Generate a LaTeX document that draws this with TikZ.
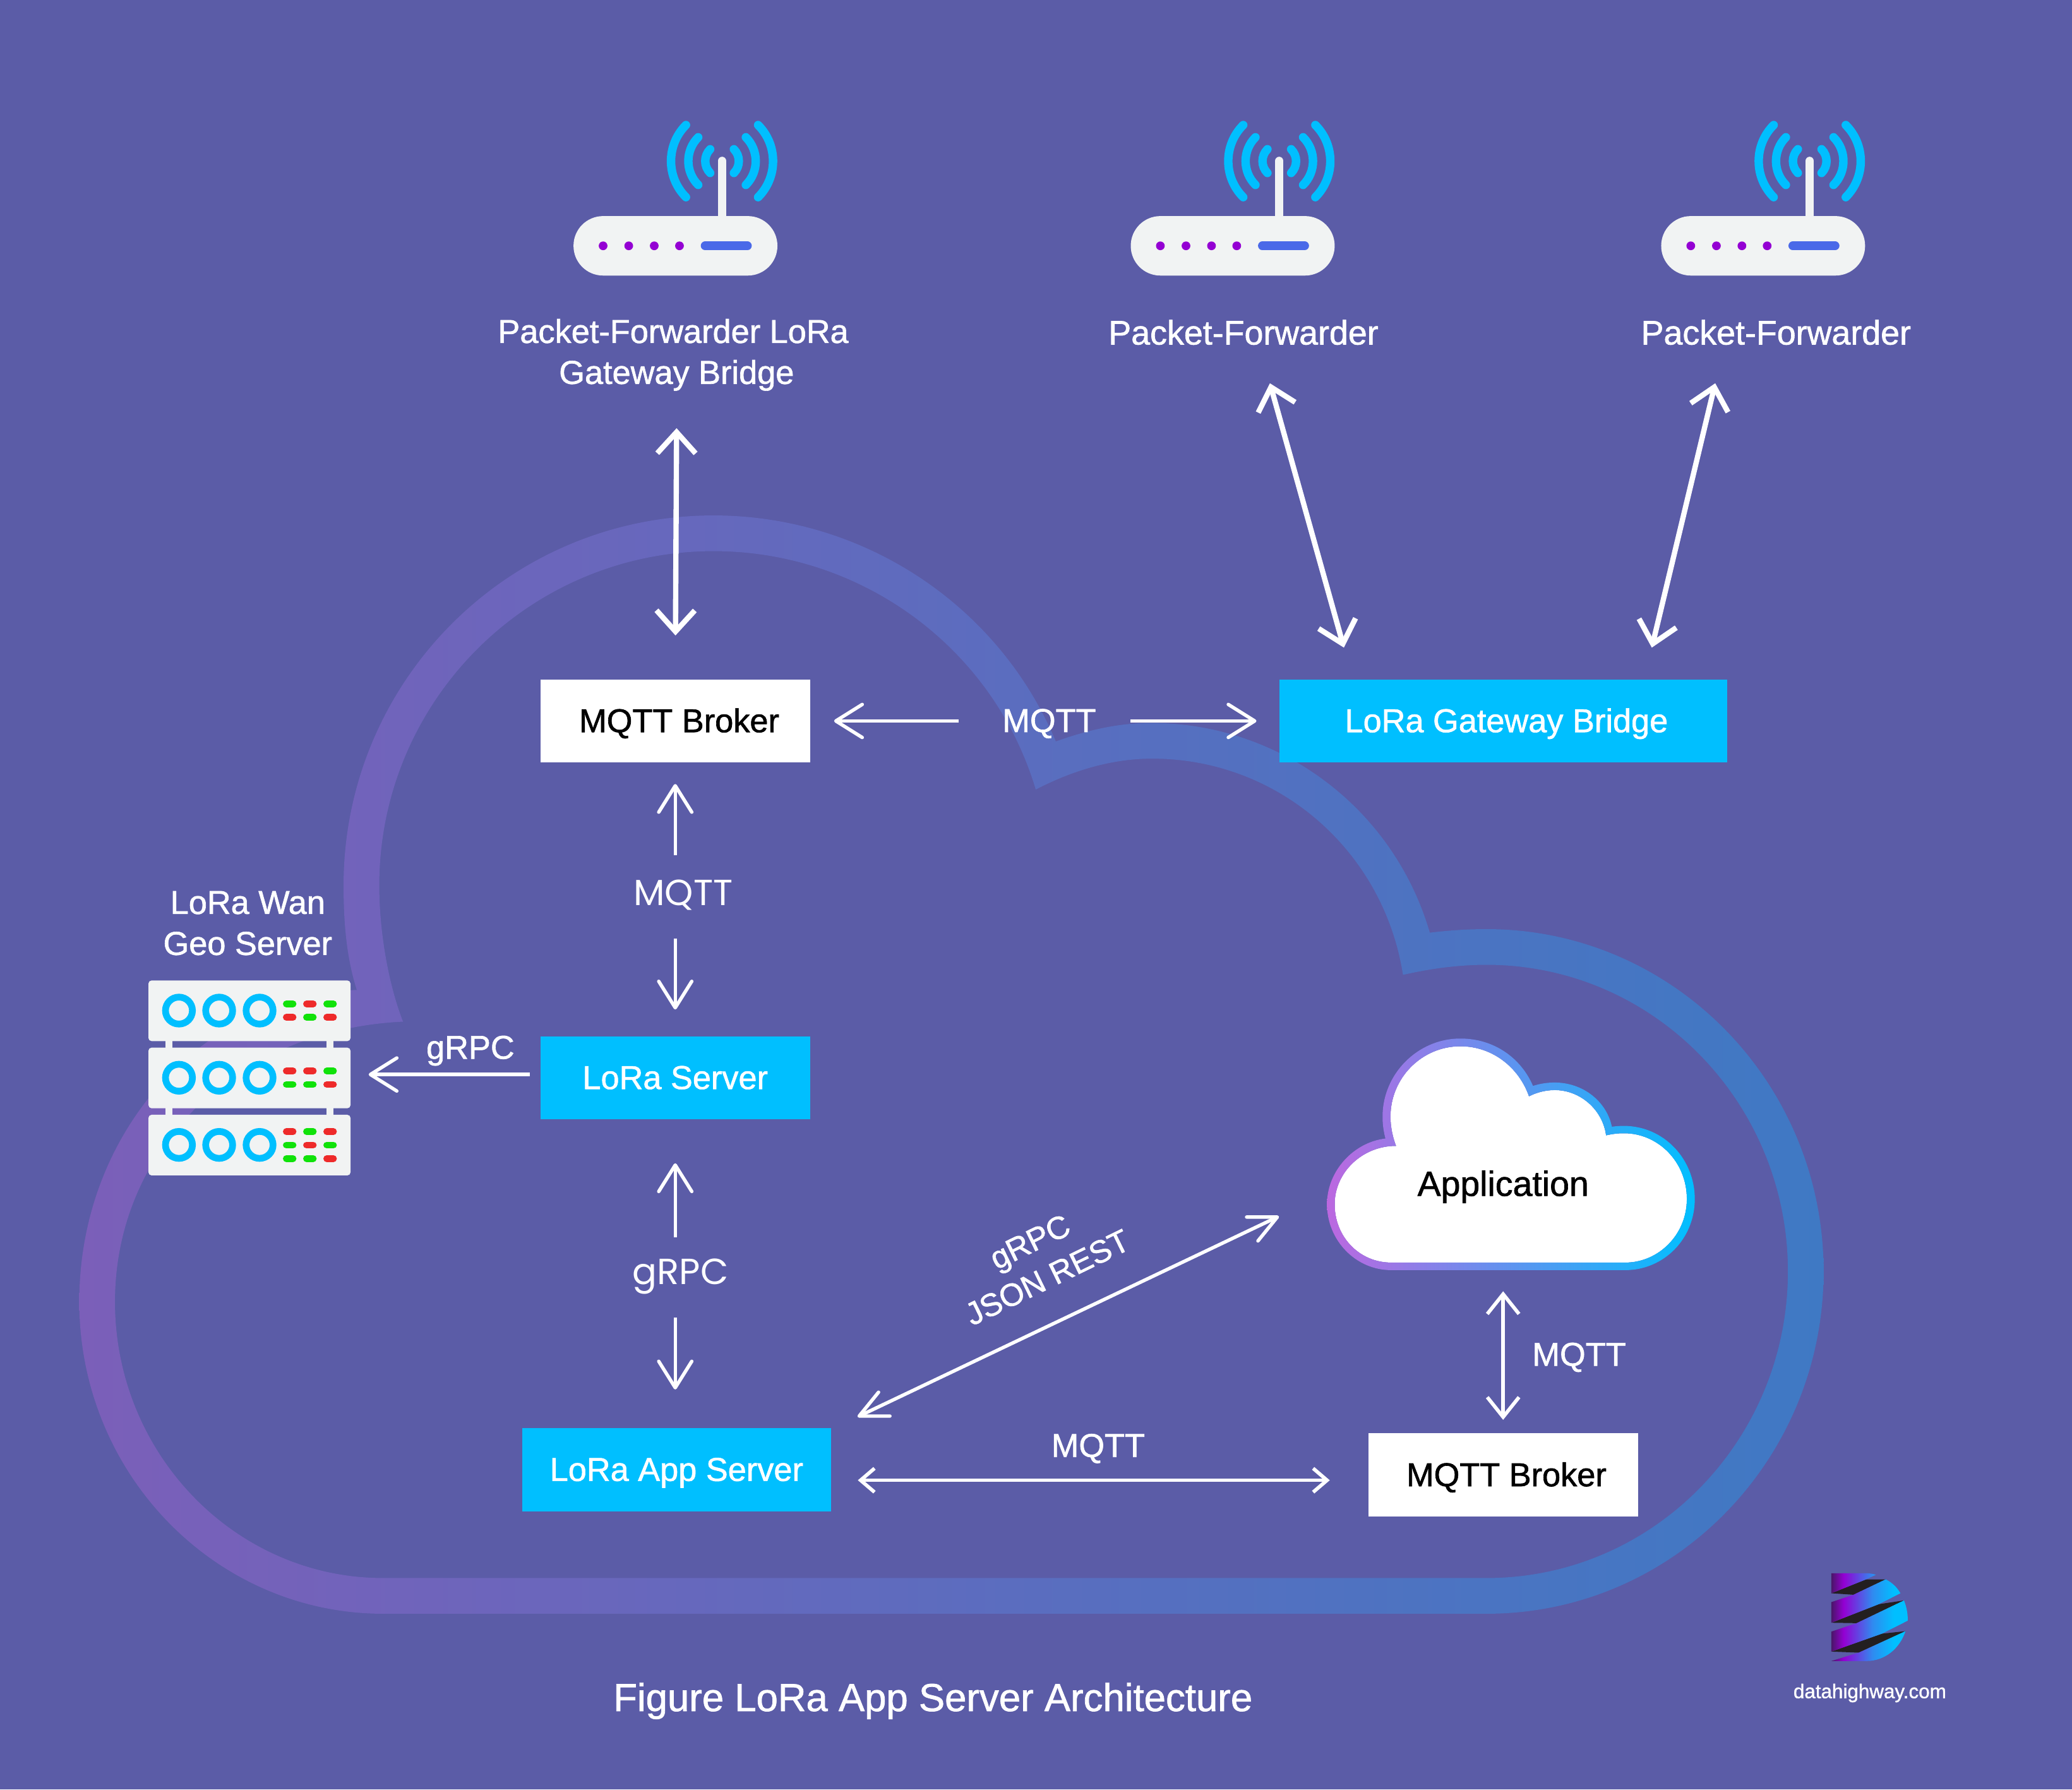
\documentclass[tikz,border=0pt]{standalone}
\usepackage{fontspec}
\setmainfont{Liberation Sans}[FakeBold=1.2]
\newfontfamily\labelfont{Poppins}
\usetikzlibrary{arrows.meta}

\definecolor{backcol}{HTML}{5B5CA7}
\definecolor{cyancol}{HTML}{00BFFF}
\definecolor{paper}{HTML}{F1F3F3}
\definecolor{dotcol}{HTML}{9400D3}
\definecolor{barcol}{HTML}{4A69E8}
\definecolor{okcol}{HTML}{10E20A}
\definecolor{badcol}{HTML}{EE2A2A}
\definecolor{logodark}{HTML}{4A1568}
\definecolor{logoblue}{HTML}{2F8BF0}
\definecolor{logoband}{HTML}{231F20}
\definecolor{bandleft}{HTML}{7B5FB9}
\definecolor{bandright}{HTML}{3F79C4}
\definecolor{ringleft}{HTML}{BC68E0}
\definecolor{ringmid}{HTML}{7E8BEE}

\pgfdeclarehorizontalshading{logoshade}{100bp}{color(0bp)=(logodark); color(25bp)=(logodark); color(33bp)=(dotcol); color(52bp)=(logoblue); color(66bp)=(cyancol); color(100bp)=(cyancol)}

\tikzset{
	roundtip/.tip={Straight Barb[length=20pt,width=25pt,round]},
	difftip/.tip={Straight Barb[length=21pt,width=20pt,round]},
	bigtip/.tip={Straight Barb[length=16pt,width=29pt]},
	midtip/.tip={Straight Barb[length=15pt,width=24pt]},
	smalltip/.tip={Straight Barb[length=10.5pt,width=18pt]},
	boxnode/.style={minimum height=63pt, inner sep=0pt, text height=17pt, text depth=0pt, font=\fontsize{25}{31}\selectfont},
	whitebox/.style={boxnode, fill=white, text=black, minimum width=204pt},
	bluebox/.style={boxnode, fill=cyancol, text=white},
	caption/.style={text=white, inner sep=0pt, align=center, font=\fontsize{25}{31}\selectfont},
	thinlabel/.style={text=white, inner sep=0pt, font=\labelfont\fontsize{27.5}{31}\selectfont},
	onearrow/.style={draw=white, line width=2.6pt, -{roundtip}},
	heavyarrow/.style={draw=white, line width=4pt, {bigtip}-{bigtip}},
	diagarrow/.style={draw=white, line width=2.6pt, {difftip}-{difftip}},
	midarrow/.style={draw=white, line width=2.7pt, {midtip}-{midtip}},
	lowarrow/.style={draw=white, line width=2.7pt, {smalltip}-{smalltip}},
	wave/.style={draw=cyancol, line width=6.4pt, line cap=round},
	pill/.style={line width=5.1pt, line cap=round},
	pics/router/.style={code={
		\fill[paper, rounded corners=22.4pt] (0,-22.5) rectangle (154.3,22.5);
		\draw[paper, line width=6.4pt, line cap=round] (112.4,-64.2) -- (112.4,-20);
		\foreach \r in {12.7,25.5,38.6} {
			\draw[wave] (112.4,-64.1) ++(135:\r) arc (135:225:\r);
			\draw[wave] (112.4,-64.1) ++(-45:\r) arc (-45:45:\r);
		}
		\foreach \x in {22.4,41.8,61.1,80.2}
			\fill[dotcol] (\x,0) circle (3.3);
		\draw[barcol, line width=6.6pt, line cap=round] (99.6,0) -- (131.6,0);
	}}
}

\begin{document}
\begin{tikzpicture}[x=1pt,y=-1pt]

	\useasboundingbox (0,0) rectangle (1568,1353.9);
	\fill[backcol] (0,0) rectangle (1568,1353.9);

	% big cloud
	\shade[left color=bandleft, right color=bandright, even odd rule]
		(290,1221) .. controls (163,1221) and (60,1115) .. (60,985)
		.. controls (60,855) and (155,753) .. (270,749)
		.. controls (262,724) and (260,697) .. (260,670)
		.. controls (260,515.4) and (385,390) .. (540,390)
		.. controls (652.7,390) and (755.3,457.1) .. (799,561)
		.. controls (822.5,552.6) and (846,547) .. (871,547)
		.. controls (968.8,547) and (1054.7,611.8) .. (1082,705.7)
		.. controls (1096,704) and (1110,703) .. (1125,703)
		.. controls (1265.8,703) and (1380,819) .. (1380,962)
		.. controls (1380,1105) and (1265.8,1221) .. (1125,1221) -- cycle
		(290,1194) .. controls (178,1194) and (87,1100) .. (87,985)
		.. controls (87,870) and (178,779) .. (305,773)
		.. controls (294,745) and (287,705) .. (287,670)
		.. controls (287,530.3) and (400.3,417) .. (540,417)
		.. controls (651.9,417) and (751.8,490) .. (783.8,597.4)
		.. controls (811.2,583.2) and (841.1,574) .. (872,574)
		.. controls (967.2,574) and (1047.1,643.6) .. (1061.7,737.6)
		.. controls (1082,733) and (1103,730) .. (1125,730)
		.. controls (1251,730) and (1353,834) .. (1353,962)
		.. controls (1353,1090) and (1251,1194) .. (1125,1194) -- cycle;

	% gateways
	\pic at (434,186) {router};
	\pic at (855.7,186) {router};
	\pic at (1257.1,186) {router};

	\node[caption] (pfa) at (509.5,268.5) {Packet-Forwarder LoRa\\\hspace*{5pt}Gateway Bridge};
	\node[caption, font=\fontsize{25.7}{31}\selectfont] (pfb) at (941,251.5) {Packet-Forwarder};
	\node[caption, font=\fontsize{25.7}{31}\selectfont] (pfc) at (1344,251.5) {Packet-Forwarder};

	% boxes
	\node[whitebox] (mqtta) at (511,545.5) {\hspace*{6pt}MQTT Broker};
	\node[bluebox, minimum width=339pt] (gateway) at (1137.5,545.5) {\hspace*{5pt}LoRa Gateway Bridge};
	\node[bluebox, minimum width=204pt] (loraserver) at (511,815.5) {LoRa Server};
	\node[bluebox, minimum width=234pt] (appserver) at (512,1112) {LoRa App Server};
	\node[whitebox] (mqttb) at (1137.5,1116) {\hspace*{5pt}MQTT Broker};

	% application cloud
	\begin{scope}[shift={(984.5,764.6)},xscale=.2011,yscale=.1593]
		\fill[white]
			(340,1197) .. controls (220,1197) and (127,1075) .. (127,920)
			.. controls (127,770) and (230,643) .. (358,643)
			.. controls (345,600) and (337,550) .. (337,505)
			.. controls (337,320) and (455,170) .. (600,170)
			.. controls (720,170) and (820,270) .. (858,408)
			.. controls (885,390) and (920,378) .. (955,378)
			.. controls (1050,378) and (1135,470) .. (1148,593)
			.. controls (1170,587) and (1190,583) .. (1215,583)
			.. controls (1345,583) and (1452,720) .. (1452,895)
			.. controls (1452,1065) and (1345,1197) .. (1220,1197) -- cycle;
		\shade[left color=ringleft, middle color=ringmid, right color=cyancol, even odd rule]
			(340,1233) .. controls (205,1233) and (98,1090) .. (98,920)
			.. controls (98,760) and (200,625) .. (318,608)
			.. controls (311,575) and (307,540) .. (307,505)
			.. controls (307,300) and (440,133) .. (600,133)
			.. controls (730,133) and (830,230) .. (873,358)
			.. controls (900,347) and (927,342) .. (955,342)
			.. controls (1060,342) and (1150,430) .. (1170,552)
			.. controls (1185,549) and (1200,548) .. (1215,548)
			.. controls (1365,548) and (1482,705) .. (1482,895)
			.. controls (1482,1085) and (1365,1233) .. (1220,1233) -- cycle
			(340,1197) .. controls (220,1197) and (127,1075) .. (127,920)
			.. controls (127,770) and (230,643) .. (358,643)
			.. controls (345,600) and (337,550) .. (337,505)
			.. controls (337,320) and (455,170) .. (600,170)
			.. controls (720,170) and (820,270) .. (858,408)
			.. controls (885,390) and (920,378) .. (955,378)
			.. controls (1050,378) and (1135,470) .. (1148,593)
			.. controls (1170,587) and (1190,583) .. (1215,583)
			.. controls (1345,583) and (1452,720) .. (1452,895)
			.. controls (1452,1065) and (1345,1197) .. (1220,1197) -- cycle;
	\end{scope}
	\node[caption, text=black, font=\fontsize{26.5}{31}\selectfont] (application) at (1137.5,898) {Application};

	% server rack
	\begin{scope}[shift={(95.6,726.4)},scale=.1593]
		\foreach \x in {185,951}
			\fill[paper] (\x,385) rectangle +(33,350);
		\foreach \y in {97,416,735} {
			\fill[paper, rounded corners=2.4pt] (105,\y) rectangle +(960,288);
			\foreach \x in {250,441,633}
				\draw[cyancol, line width=5.1pt] (\x,\y+143) circle (64);
		}
		\foreach \x/\y/\c in {744/208/okcol,840/208/badcol,936/208/okcol,744/272/badcol,840/272/okcol,936/272/badcol,
			744/527/badcol,840/527/badcol,936/527/okcol,744/591/okcol,840/591/okcol,936/591/badcol,
			744/815/badcol,840/815/okcol,936/815/badcol,744/879/okcol,840/879/badcol,936/879/okcol,744/943/okcol,840/943/okcol,936/943/badcol}
			\draw[\c, pill] (\x+16,\y) -- (\x+48,\y);
	\end{scope}
	\node[caption] (geolabel) at (187.5,698.5) {LoRa Wan\\Geo Server};
	\coordinate (geoport) at (265,813);

	% free ends
	\coordinate (pfaport) at (512,324);
	\coordinate (pfbport) at (961,290);
	\coordinate (pfcport) at (1298,290);
	\coordinate (gwa) at (1017,490);
	\coordinate (gwb) at (1250,490);
	\coordinate (appa) at (649,1072);
	\coordinate (appb) at (967.8,920.3);

	% labels
	\node[caption] (lbla) at (794,547.5) {MQTT};
	\node[thinlabel] (lblb) at (517,677) {MQTT};
	\node[thinlabel] (lblc) at (515,966) {gRPC};
	\node[caption] (lbld) at (356,795) {gRPC};
	\node[caption, rotate=26, font=\fontsize{24}{30}\selectfont] (lble) at (786,953) {gRPC\\JSON REST};
	\node[caption] (lblf) at (831,1096) {MQTT};
	\node[caption] (lblg) at (1195,1027) {MQTT};

	% arrows
	\draw[heavyarrow, shorten >=33pt] (pfaport) -- (mqtta.north);
	\draw[heavyarrow] (pfbport) -- (gwa);
	\draw[heavyarrow] (pfcport) -- (gwb);

	\draw[onearrow, shorten <=33pt, shorten >=18pt] (lbla.west |- mqtta.east) -- (mqtta.east);
	\draw[onearrow, shorten <=26pt, shorten >=17pt] (lbla.east |- gateway.west) -- (gateway.west);

	\draw[onearrow, shorten <=30pt, shorten >=16pt] (lblb -| mqtta) -- (mqtta.south);
	\draw[onearrow, shorten <=33pt, shorten >=20pt] (lblb -| mqtta) -- (loraserver.north);
	\draw[onearrow, shorten <=30pt, shorten >=33pt] (lblc -| mqtta) -- (loraserver.south);
	\draw[onearrow, shorten <=31pt, shorten >=29pt] (lblc -| mqtta) -- (appserver.north -| mqtta);

	\draw[onearrow, shorten <=8pt, shorten >=14pt] (loraserver.west |- geoport) -- (geoport);
	\draw[diagarrow] (appa) -- (appb);
	\draw[midarrow, shorten <=79pt, shorten >=10pt] (application.center) -- (mqttb.north);
	\draw[lowarrow, shorten <=20pt, shorten >=29pt] ([yshift=-8pt]appserver.east) -- ([yshift=-4pt]mqttb.west);

	% logo
	\begin{scope}[shift={(1338.1,1166)},scale=.1593]
		\fill[logoband] (300,248) -- (465,182) -- (558,182) -- (405,255) -- cycle
			(300,388) -- (525,300) -- (645,282) -- (420,390) -- cycle
			(300,525) -- (540,440) -- (652,428) -- (430,530) -- cycle;
		\shade[shading=logoshade]
			(300,153) -- (465,153) .. controls (480,153) and (495,155) .. (512,160) -- (465,182) -- (300,248) -- cycle
			(300,290) -- (405,255) -- (558,182) .. controls (590,198) and (612,220) .. (628,248) -- (525,300) -- (300,388) -- cycle
			(300,430) -- (420,390) -- (645,282) .. controls (658,315) and (663,345) .. (663,378) -- (540,440) -- (300,525) -- cycle
			(300,570) -- (430,530) -- (652,428) .. controls (625,510) and (555,570) .. (465,570) -- cycle;
	\end{scope}
	\node[caption, font=\fontsize{15}{18}\selectfont] (logotext) at (1415,1281) {datahighway.com};

	\node[caption, font=\fontsize{29.5}{35}\selectfont] (title) at (706,1287) {Figure LoRa App Server Architecture};

\end{tikzpicture}
\end{document}
